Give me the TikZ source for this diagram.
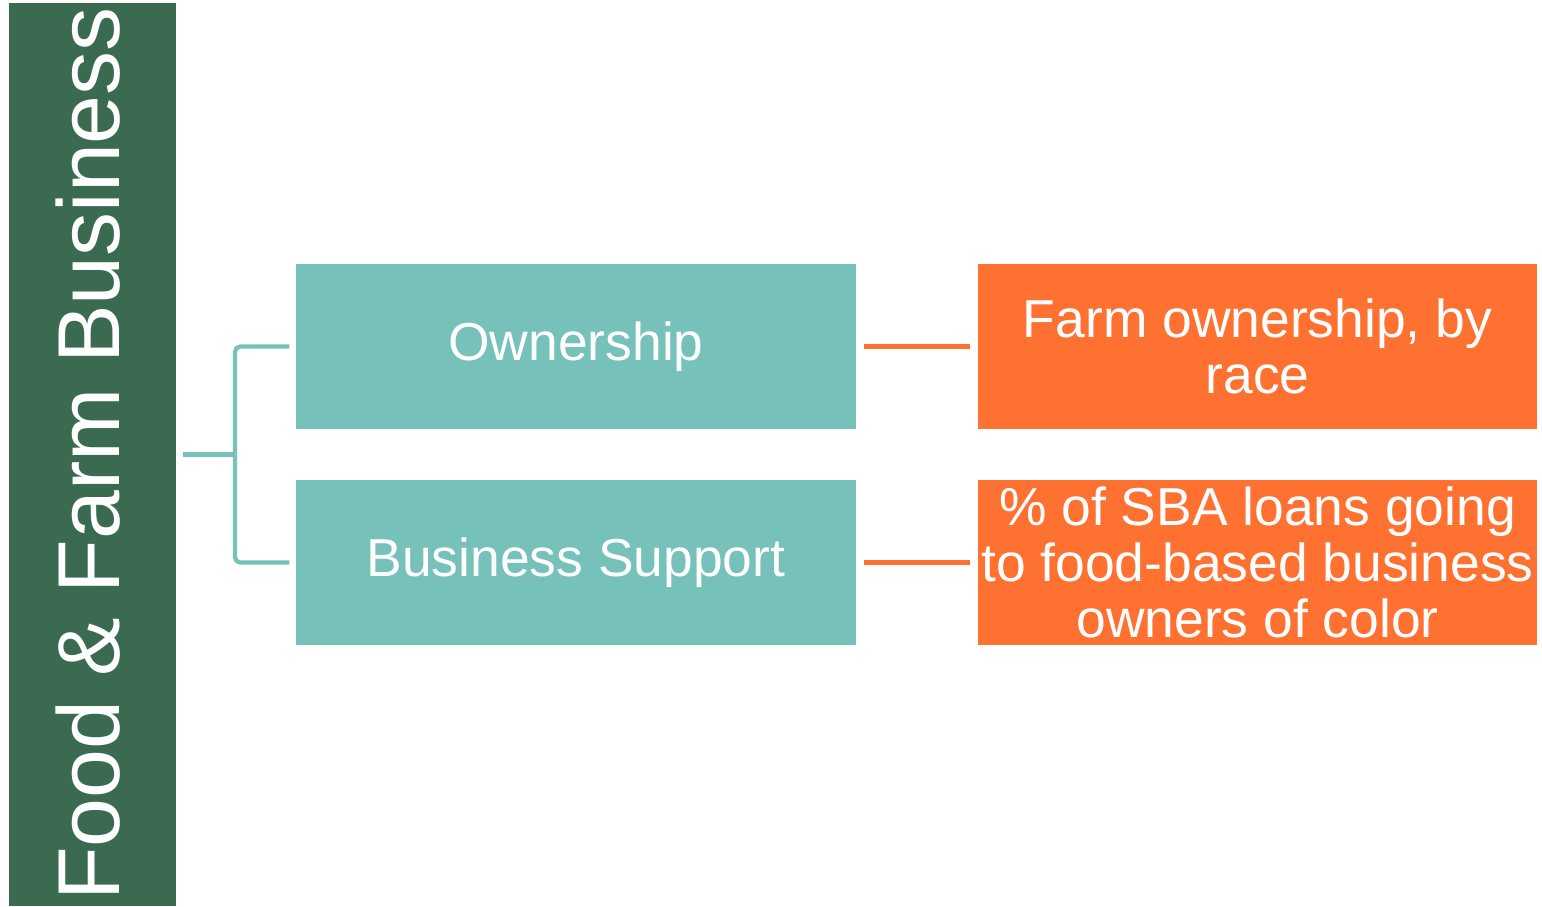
\documentclass[tikz,border=0pt]{standalone}
\usepackage{fontspec}
\setmainfont{Liberation Sans}
\usepackage{tikz}
\usetikzlibrary{arrows}
\usetikzlibrary{positioning}

\begin{document}
\begin{tikzpicture}
    \definecolor{my_green}{HTML}{3A6B50}
    \definecolor{my_teal}{HTML}{76C1BA}
    \definecolor{my_orange}{HTML}{FF7131}
    \tikzstyle{every node}=[inner sep = 0pt, text = white, align = center]
    \tikzstyle{topic}=[rectangle, fill = my_teal, draw = white, line width = 0.4pt,
                        minimum width = 5.62cm, minimum height = 1.67cm,
                        font = \fontsize{15.2}{16}\selectfont]
    \tikzstyle{measure}=[rectangle, fill = my_orange, draw = white, line width = 0.4pt,
                        minimum width = 5.61cm, minimum height = 1.67cm,
                        font = \fontsize{15.2}{15.9}\selectfont]
    \tikzstyle{teal_link}=[draw = my_teal, line width = 1.2pt, rounded corners = 1.5pt]
    \tikzstyle{orange_link}=[draw = my_orange, line width = 1.4pt,
                        shorten < = 0.06cm, shorten > = 0.06cm]
    \useasboundingbox (0,0) rectangle (15.42,-9.06);
    % category bar
    \node[rectangle, fill = my_green, minimum width = 1.67cm, minimum height = 9.03cm] (farm) at (0.925,-4.545) {};
    \node[rotate = 90, font = \fontsize{25}{26}\selectfont] (farm_title) at (0.88,-4.54) {Food \& Farm Business};
    % topics and measures
    \node[topic] (ownership) at (5.76,-3.465) {Ownership};
    \node[topic] (support) at (5.76,-5.625) {Business Support};
    \node[measure] (ownership_race) at (12.575,-3.465) {Farm ownership, by\\race};
    \node[measure] (sba_loans) at (12.575,-5.625) {\% of SBA loans going\\to food-based business\\owners of color};
    % connectors
    \coordinate (fork) at (2.35,-4.545);
    \draw[teal_link, shorten < = 0.06cm] (farm.east) -- (fork);
    \draw[teal_link, shorten < = 0.05cm] (ownership.west) -| (fork);
    \draw[teal_link, shorten < = 0.05cm] (support.west) -| (fork);
    \draw[orange_link] (ownership) -- (ownership_race);
    \draw[orange_link] (support) -- (sba_loans);
\end{tikzpicture}
\end{document}
